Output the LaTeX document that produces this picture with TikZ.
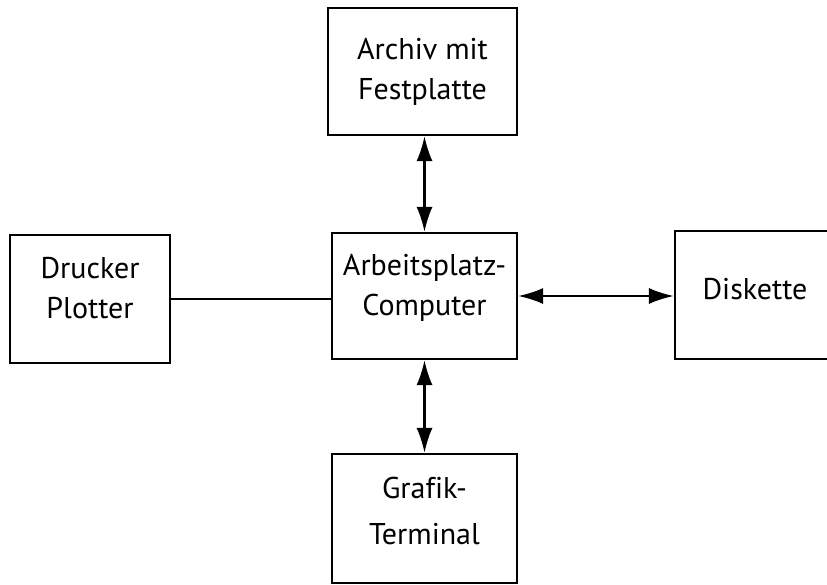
\documentclass[tikz,border=0pt]{standalone}
\usepackage{fontspec}
\setmainfont[Ligatures=NoCommon]{PT Sans}
\usetikzlibrary{arrows.meta}
\begin{document}
\begin{tikzpicture}[x=1pt,y=-1pt,
  box/.style={draw,line width=2.2pt,rectangle,inner sep=0pt,align=center,
    font=\fontsize{30}{40}\selectfont},
  raised/.style={text depth=23pt},
  link/.style={line width=2.2pt},
  dbl/.style={line width=2.2pt,{Latex[length=25pt,width=16pt]}-{Latex[length=25pt,width=16pt]}}]
\useasboundingbox (0,0) rectangle (827,584);
\clip (0,0) rectangle (827,584);
\node[box,minimum width=189pt,minimum height=127pt] (archiv) at (422.5,71.5) {Archiv mit\\Festplatte};
\node[box,raised,minimum width=185pt,minimum height=126pt] (comp) at (424.5,296) {Arbeitsplatz-\\Computer};
\node[box,raised,minimum width=160pt,minimum height=128pt] (druck) at (90,299) {Drucker\\Plotter};
\node[box,text depth=12pt,minimum width=160pt,minimum height=128pt] (disk) at (755,295) {Diskette};
\node[box,text depth=16pt,minimum width=185pt,minimum height=129pt,font=\fontsize{30}{46}\selectfont] (grafik) at (424.5,518.5) {Grafik-\\Terminal};
\draw[dbl] (comp.north) -- (comp.north |- archiv.south);
\draw[dbl] (comp.south) -- (grafik.north);
\draw[dbl] (comp.east) -- (comp.east -| disk.west);
\draw[link] (druck.east) -- (druck.east -| comp.west);
\end{tikzpicture}
\end{document}
